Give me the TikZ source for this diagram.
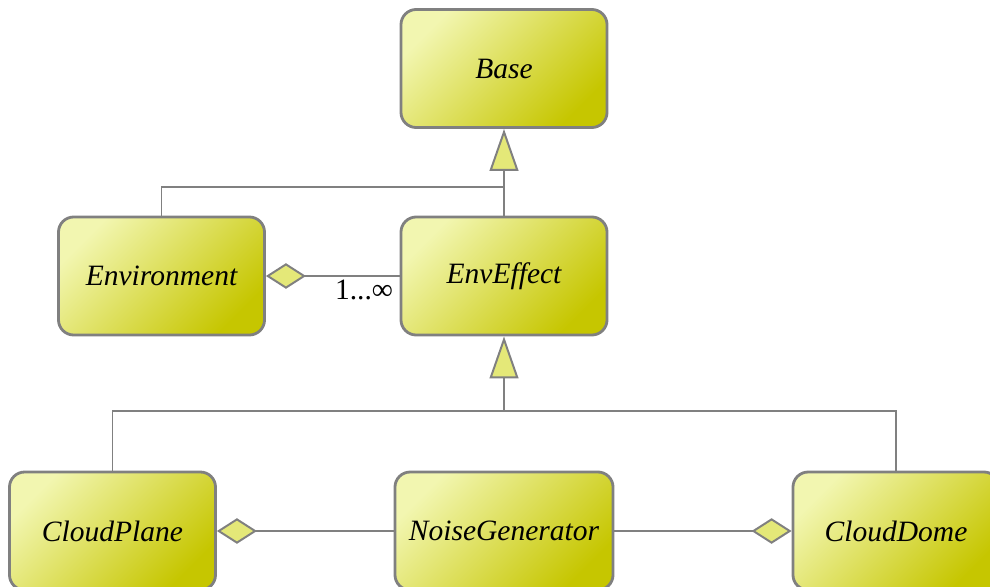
\documentclass[tikz,border=0pt]{standalone}
\usepackage{fontspec}
\setmainfont{Liberation Serif}
\usetikzlibrary{arrows.meta}

\definecolor{boxlight}{RGB}{242,246,176}
\definecolor{boxdark}{RGB}{198,198,0}
\definecolor{tipfill}{RGB}{228,232,120}
\definecolor{edge}{RGB}{128,128,128}

\begin{document}
\begin{tikzpicture}[x=0.025cm, y=-0.025cm,
  cls/.style={draw=edge, line width=2pt, rounded corners=0.38cm,
    top color=boxlight, bottom color=boxdark, shading angle=45,
    minimum width=5.15cm, minimum height=2.95cm,
    font=\fontsize{21}{24}\selectfont\itshape},
  link/.style={draw=edge, line width=1.4pt},
  isa/.style={link, -{Triangle[length=1.05cm, width=0.72cm, fill=tipfill]}},
  part/.style={link, -{Diamond[length=1cm, width=0.64cm, fill=tipfill]}}]
  \useasboundingbox (0,0) rectangle (990,586);

  \node [cls] (base) at (504, 68.5) {Base};
  \node [cls] (env) at (161.5, 276) {Environment};
  \node [cls] (effect) at (504, 276) {EnvEffect};
  \node [cls] (plane) at (112.5, 531) {CloudPlane};
  \node [cls, minimum width=5.45cm] (noise) at (504, 531) {NoiseGenerator};
  \node [cls] (dome) at (896, 531) {CloudDome};

  % inheritance
  \coordinate (up) at (504, 187);
  \coordinate (down) at (504, 411);
  \draw [isa] (effect.north) -- (base.south);
  \draw [link] (env.north) |- (up);
  \draw [isa] (down) -- (effect.south);
  \draw [link] (plane.north) |- (down) -| (dome.north);

  % aggregation
  \draw [part] (effect.west) -- (env.east);
  \node [font=\fontsize{21}{24}\selectfont] (mult) at (364, 290) {1...∞};
  \draw [part] (noise.west) -- (plane.east);
  \draw [part] (noise.east) -- (dome.west);
\end{tikzpicture}
\end{document}
